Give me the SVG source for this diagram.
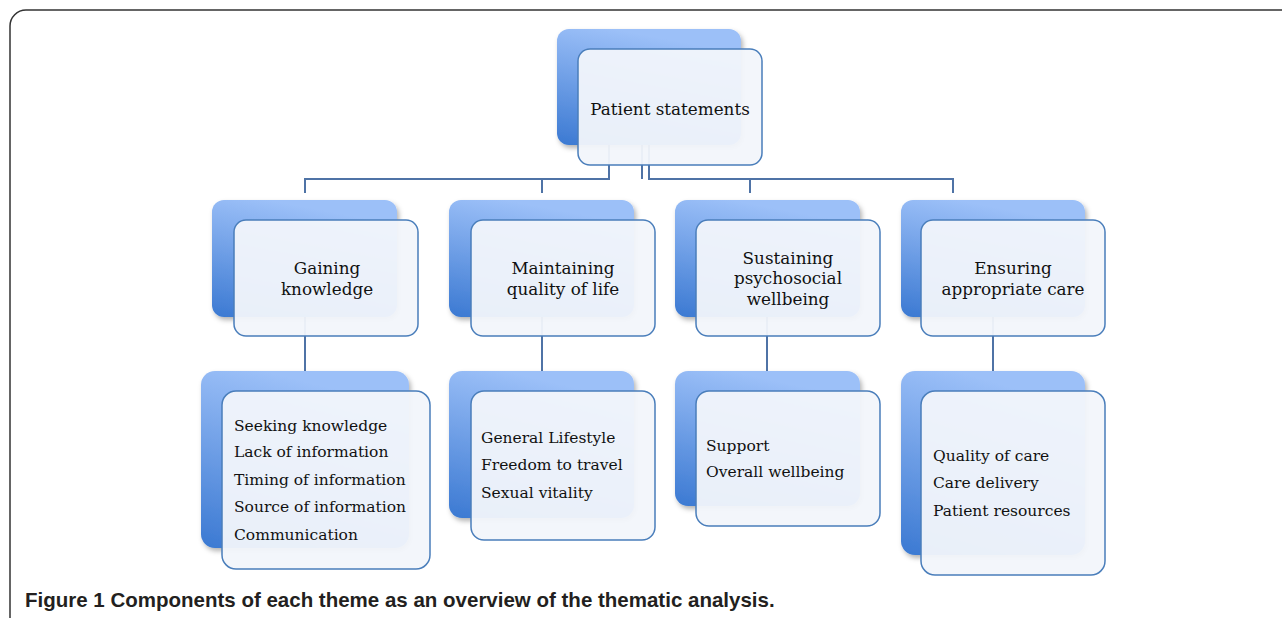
<svg xmlns="http://www.w3.org/2000/svg" width="1282" height="618" viewBox="0 0 1282 618">
<defs>
<linearGradient id="bg" x1="0.3" y1="0" x2="0" y2="1">
<stop offset="0" stop-color="#9cc0f8"/>
<stop offset="1" stop-color="#3b79d2"/>
</linearGradient>
<filter id="sh" x="-10%" y="-10%" width="130%" height="130%">
<feDropShadow dx="2" dy="3" stdDeviation="2.5" flood-color="#000" flood-opacity="0.3"/>
</filter>
<style>
.back{fill:url(#bg);filter:url(#sh)}
.front{fill:#f2f6fb;fill-opacity:0.95;stroke:#4a7ebb;stroke-width:1.5}
.t{font-family:"DejaVu Serif",serif;font-size:15.5px;fill:#111}
.h{font-size:16.8px}
.c{text-anchor:middle}
.conn{fill:none;stroke:#4f73a6;stroke-width:2}
.cap{font-family:"Liberation Sans",Arial,sans-serif;font-size:20.5px;font-weight:bold;fill:#231f20}
</style>
</defs>
<rect x="10" y="10" width="1300" height="640" rx="16" fill="#fff" stroke="#333" stroke-width="1.5"/>
<g id="connectors" class="conn">
<path d="M609 140 V179 H305 V193"/>
<path d="M642 140 V179"/>
<path d="M542 179 V193"/>
<path d="M649 140 V179 H953 V193"/>
<path d="M750 179 V193"/>
<path d="M305 317 V371"/>
<path d="M542 317 V371"/>
<path d="M767 317 V371"/>
<path d="M993 317 V371"/>
</g>
<g id="n0">
<rect class="back" x="557" y="29" width="184" height="116" rx="12"/>
<rect class="front" x="578" y="49" width="184" height="116" rx="12"/>
<text class="t h c" x="670" y="115">Patient statements</text>
</g>
<g id="n1">
<rect class="back" x="212" y="200" width="185" height="117" rx="12"/>
<rect class="front" x="234" y="220" width="184" height="116" rx="12"/>
<text class="t h c" x="327" y="274">Gaining</text>
<text class="t h c" x="327" y="295">knowledge</text>
</g>
<g id="n2">
<rect class="back" x="449" y="200" width="185" height="117" rx="12"/>
<rect class="front" x="471" y="220" width="184" height="116" rx="12"/>
<text class="t h c" x="563" y="274">Maintaining</text>
<text class="t h c" x="563" y="295">quality of life</text>
</g>
<g id="n3">
<rect class="back" x="675" y="200" width="185" height="117" rx="12"/>
<rect class="front" x="696" y="220" width="184" height="116" rx="12"/>
<text class="t h c" x="788" y="264">Sustaining</text>
<text class="t h c" x="788" y="284">psychosocial</text>
<text class="t h c" x="788" y="305">wellbeing</text>
</g>
<g id="n4">
<rect class="back" x="901" y="200" width="184" height="117" rx="12"/>
<rect class="front" x="921" y="220" width="184" height="116" rx="12"/>
<text class="t h c" x="1013" y="274">Ensuring</text>
<text class="t h c" x="1013" y="295">appropriate care</text>
</g>
<g id="n5">
<rect class="back" x="201" y="371" width="208" height="177" rx="14"/>
<rect class="front" x="222" y="391" width="208" height="178" rx="14"/>
<text class="t" x="234" y="431">Seeking knowledge</text>
<text class="t" x="234" y="457">Lack of information</text>
<text class="t" x="234" y="485">Timing of information</text>
<text class="t" x="234" y="512">Source of information</text>
<text class="t" x="234" y="540">Communication</text>
</g>
<g id="n6">
<rect class="back" x="449" y="371" width="185" height="147" rx="13"/>
<rect class="front" x="471" y="391" width="184" height="149" rx="13"/>
<text class="t" x="481" y="443">General Lifestyle</text>
<text class="t" x="481" y="470">Freedom to travel</text>
<text class="t" x="481" y="498">Sexual vitality</text>
</g>
<g id="n7">
<rect class="back" x="675" y="371" width="185" height="135" rx="13"/>
<rect class="front" x="696" y="391" width="184" height="135" rx="13"/>
<text class="t" x="706" y="451">Support</text>
<text class="t" x="706" y="477">Overall wellbeing</text>
</g>
<g id="n8">
<rect class="back" x="901" y="371" width="184" height="184" rx="14"/>
<rect class="front" x="921" y="391" width="184" height="184" rx="14"/>
<text class="t" x="933" y="461">Quality of care</text>
<text class="t" x="933" y="488">Care delivery</text>
<text class="t" x="933" y="516">Patient resources</text>
</g>
<text class="cap" x="25" y="607">Figure 1 Components of each theme as an overview of the thematic analysis.</text>
</svg>
